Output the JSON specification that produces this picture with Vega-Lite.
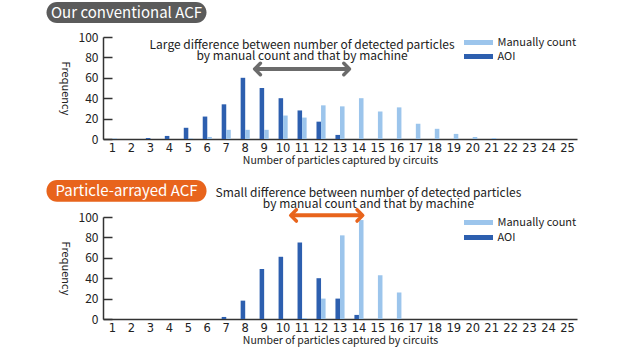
{
  "$schema": "https://vega.github.io/schema/vega-lite/v6.json",
  "background": "white",
  "padding": {"left": 46, "top": 2, "right": 10, "bottom": 2},
  "spacing": 14,
  "config": {
    "view": {"stroke": null},
    "font": "Noto Sans CJK JP",
    "axis": {"labelColor": "#222", "titleColor": "#222", "domainColor": "#333", "tickColor": "#333", "grid": false, "labelFont": "Noto Sans CJK JP", "titleFont": "Noto Sans CJK JP", "titleFontWeight": "normal"},
    "axisY": {"labelOverlap": false, "labelFontSize": 12, "tickSize": -9, "labelPadding": 14, "domainWidth": 1.5, "tickWidth": 1.5, "titleAngle": 90, "titleBaseline": "top", "titleFontSize": 11, "titlePadding": 8},
    "legend": {"labelFont": "Noto Sans CJK JP", "labelColor": "#222"}
  },
  "resolve": {"scale": {"color": "independent"}, "legend": {"color": "independent"}},
  "datasets": {
    "top": [
      {"n": 1, "series": "AOI", "freq": 0}, {"n": 2, "series": "AOI", "freq": 0}, {"n": 3, "series": "AOI", "freq": 1}, {"n": 4, "series": "AOI", "freq": 3}, {"n": 5, "series": "AOI", "freq": 11},
      {"n": 6, "series": "AOI", "freq": 22}, {"n": 7, "series": "AOI", "freq": 34}, {"n": 8, "series": "AOI", "freq": 60}, {"n": 9, "series": "AOI", "freq": 50}, {"n": 10, "series": "AOI", "freq": 40},
      {"n": 11, "series": "AOI", "freq": 28}, {"n": 12, "series": "AOI", "freq": 17}, {"n": 13, "series": "AOI", "freq": 4}, {"n": 14, "series": "AOI", "freq": 0}, {"n": 15, "series": "AOI", "freq": 0},
      {"n": 16, "series": "AOI", "freq": 0}, {"n": 17, "series": "AOI", "freq": 0}, {"n": 18, "series": "AOI", "freq": 0}, {"n": 19, "series": "AOI", "freq": 0}, {"n": 20, "series": "AOI", "freq": 0},
      {"n": 21, "series": "AOI", "freq": 0}, {"n": 22, "series": "AOI", "freq": 0}, {"n": 23, "series": "AOI", "freq": 0}, {"n": 24, "series": "AOI", "freq": 0}, {"n": 25, "series": "AOI", "freq": 0},
      {"n": 1, "series": "Manually count", "freq": 0.5}, {"n": 2, "series": "Manually count", "freq": 0}, {"n": 3, "series": "Manually count", "freq": 0}, {"n": 4, "series": "Manually count", "freq": 0}, {"n": 5, "series": "Manually count", "freq": 0.5},
      {"n": 6, "series": "Manually count", "freq": 2}, {"n": 7, "series": "Manually count", "freq": 9}, {"n": 8, "series": "Manually count", "freq": 9}, {"n": 9, "series": "Manually count", "freq": 9}, {"n": 10, "series": "Manually count", "freq": 23},
      {"n": 11, "series": "Manually count", "freq": 21}, {"n": 12, "series": "Manually count", "freq": 33}, {"n": 13, "series": "Manually count", "freq": 32}, {"n": 14, "series": "Manually count", "freq": 40}, {"n": 15, "series": "Manually count", "freq": 27},
      {"n": 16, "series": "Manually count", "freq": 31}, {"n": 17, "series": "Manually count", "freq": 15}, {"n": 18, "series": "Manually count", "freq": 10}, {"n": 19, "series": "Manually count", "freq": 5}, {"n": 20, "series": "Manually count", "freq": 2},
      {"n": 21, "series": "Manually count", "freq": 1}, {"n": 22, "series": "Manually count", "freq": 0}, {"n": 23, "series": "Manually count", "freq": 0}, {"n": 24, "series": "Manually count", "freq": 0}, {"n": 25, "series": "Manually count", "freq": 0}
    ],
    "bottom": [
      {"n": 1, "series": "AOI", "freq": 0}, {"n": 2, "series": "AOI", "freq": 0}, {"n": 3, "series": "AOI", "freq": 0}, {"n": 4, "series": "AOI", "freq": 0}, {"n": 5, "series": "AOI", "freq": 0},
      {"n": 6, "series": "AOI", "freq": 0}, {"n": 7, "series": "AOI", "freq": 2}, {"n": 8, "series": "AOI", "freq": 18}, {"n": 9, "series": "AOI", "freq": 49}, {"n": 10, "series": "AOI", "freq": 61},
      {"n": 11, "series": "AOI", "freq": 75}, {"n": 12, "series": "AOI", "freq": 40}, {"n": 13, "series": "AOI", "freq": 20}, {"n": 14, "series": "AOI", "freq": 4}, {"n": 15, "series": "AOI", "freq": 0},
      {"n": 16, "series": "AOI", "freq": 0}, {"n": 17, "series": "AOI", "freq": 0}, {"n": 18, "series": "AOI", "freq": 0}, {"n": 19, "series": "AOI", "freq": 0}, {"n": 20, "series": "AOI", "freq": 0},
      {"n": 21, "series": "AOI", "freq": 0}, {"n": 22, "series": "AOI", "freq": 0}, {"n": 23, "series": "AOI", "freq": 0}, {"n": 24, "series": "AOI", "freq": 0}, {"n": 25, "series": "AOI", "freq": 0},
      {"n": 1, "series": "Manually count", "freq": 0}, {"n": 2, "series": "Manually count", "freq": 0}, {"n": 3, "series": "Manually count", "freq": 0}, {"n": 4, "series": "Manually count", "freq": 0}, {"n": 5, "series": "Manually count", "freq": 0},
      {"n": 6, "series": "Manually count", "freq": 0}, {"n": 7, "series": "Manually count", "freq": 0}, {"n": 8, "series": "Manually count", "freq": 0}, {"n": 9, "series": "Manually count", "freq": 0}, {"n": 10, "series": "Manually count", "freq": 0},
      {"n": 11, "series": "Manually count", "freq": 1}, {"n": 12, "series": "Manually count", "freq": 20}, {"n": 13, "series": "Manually count", "freq": 82}, {"n": 14, "series": "Manually count", "freq": 97}, {"n": 15, "series": "Manually count", "freq": 43},
      {"n": 16, "series": "Manually count", "freq": 26}, {"n": 17, "series": "Manually count", "freq": 0}, {"n": 18, "series": "Manually count", "freq": 0}, {"n": 19, "series": "Manually count", "freq": 0}, {"n": 20, "series": "Manually count", "freq": 0},
      {"n": 21, "series": "Manually count", "freq": 0}, {"n": 22, "series": "Manually count", "freq": 0}, {"n": 23, "series": "Manually count", "freq": 0}, {"n": 24, "series": "Manually count", "freq": 0}, {"n": 25, "series": "Manually count", "freq": 0}
    ],
    "topNotes": [
      {"label": "Our conventional ACF", "x": -2.48, "x2": 5.96, "y": 134.3, "y2": 113.7, "xc": 1.74, "yc": 124}
    ],
    "topText": [
      {"label": "Large difference between number of detected particles\nby manual count and that by machine", "x": 11, "y": 92.2}
    ],
    "topArrow": [
      {"x": 8.5, "x2": 13.5, "y": 68.6}
    ],
    "bottomNotes": [
      {"label": "Particle-arrayed ACF", "x": -2.48, "x2": 5.96, "y": 136.2, "y2": 115.0, "xc": 1.74, "yc": 125.6}
    ],
    "bottomText": [
      {"label": "Small difference between number of detected particles\nby manual count and that by machine", "x": 14.5, "y": 123.9}
    ],
    "bottomArrow": [
      {"x": 10.4, "x2": 14.2, "y": 101.6}
    ]
  },
  "vconcat": [
    {
      "width": 474,
      "height": 102,
      "resolve": {"scale": {"x": "independent", "y": "independent"}},
      "layer": [
        {
          "data": {"name": "top"},
          "mark": {"type": "bar"},
          "encoding": {
            "x": {"field": "n", "type": "ordinal", "scale": {"paddingInner": 0.52, "paddingOuter": 0.26},
                  "axis": {"title": "Number of particles captured by circuits", "titleFontSize": 10.5, "titlePadding": 2, "labelAngle": 0, "labelFont": "DejaVu Sans", "labelFontSize": 11.5, "ticks": false, "labelPadding": 3, "domainWidth": 1.5, "labelOverlap": false}},
            "xOffset": {"field": "series", "type": "nominal", "scale": {"domain": ["AOI", "Manually count"]}},
            "y": {"field": "freq", "type": "quantitative", "scale": {"domain": [0, 100], "nice": false},
                  "axis": {"title": "Frequency", "values": [0, 20, 40, 60, 80, 100], "labelOverlap": false}},
            "color": {"field": "series", "type": "nominal", "scale": {"domain": ["Manually count", "AOI"], "range": ["#9cc5ec", "#2d5faf"]},
                      "legend": {"title": null, "orient": "top-right", "offset": 0, "padding": 0, "labelFontSize": 11, "labelOffset": 13.5, "rowPadding": 2, "symbolType": "M-2.9,-0.5L2.9,-0.5L2.9,0.5L-2.9,0.5Z", "symbolSize": 100, "symbolStrokeWidth": 0}}
          }
        },
        {
          "data": {"name": "topNotes"},
          "mark": {"type": "rect", "cornerRadius": 10.5, "color": "#5b5b5b"},
          "encoding": {
            "x": {"field": "x", "type": "quantitative", "scale": {"domain": [0.5, 25.5], "nice": false, "zero": false}, "axis": null},
            "x2": {"field": "x2"},
            "y": {"field": "y", "type": "quantitative", "scale": {"domain": [0, 100], "nice": false, "zero": false}, "axis": null},
            "y2": {"field": "y2"}
          }
        },
        {
          "data": {"name": "topNotes"},
          "mark": {"type": "text", "color": "white", "fontSize": 15, "align": "center", "baseline": "middle"},
          "encoding": {
            "x": {"field": "xc", "type": "quantitative", "scale": {"domain": [0.5, 25.5], "nice": false, "zero": false}, "axis": null},
            "y": {"field": "yc", "type": "quantitative", "scale": {"domain": [0, 100], "nice": false, "zero": false}, "axis": null},
            "text": {"field": "label"}
          }
        },
        {
          "data": {"name": "topText"},
          "mark": {"type": "text", "color": "#222", "fontSize": 12, "align": "center", "baseline": "middle", "lineBreak": "\n", "lineHeight": 11.5},
          "encoding": {
            "x": {"field": "x", "type": "quantitative", "scale": {"domain": [0.5, 25.5], "nice": false, "zero": false}, "axis": null},
            "y": {"field": "y", "type": "quantitative", "scale": {"domain": [0, 100], "nice": false, "zero": false}, "axis": null},
            "text": {"field": "label"}
          }
        },
        {
          "data": {"name": "topArrow"},
          "mark": {"type": "rule", "color": "#6b6b6b", "strokeWidth": 4},
          "encoding": {
            "x": {"field": "x", "type": "quantitative", "scale": {"domain": [0.5, 25.5], "nice": false, "zero": false}, "axis": null},
            "x2": {"field": "x2"},
            "y": {"field": "y", "type": "quantitative", "scale": {"domain": [0, 100], "nice": false, "zero": false}, "axis": null}
          }
        },
        {
          "data": {"name": "topArrow"},
          "mark": {"type": "point", "shape": "M1,-1L0,0L1,1", "size": 130, "color": "#6b6b6b", "strokeWidth": 3.5, "filled": false, "opacity": 1, "strokeCap": "round", "strokeJoin": "round"},
          "encoding": {
            "x": {"field": "x", "type": "quantitative", "scale": {"domain": [0.5, 25.5], "nice": false, "zero": false}, "axis": null},
            "y": {"field": "y", "type": "quantitative", "scale": {"domain": [0, 100], "nice": false, "zero": false}, "axis": null}
          }
        },
        {
          "data": {"name": "topArrow"},
          "mark": {"type": "point", "shape": "M-1,-1L0,0L-1,1", "size": 130, "color": "#6b6b6b", "strokeWidth": 3.5, "filled": false, "opacity": 1, "strokeCap": "round", "strokeJoin": "round"},
          "encoding": {
            "x": {"field": "x2", "type": "quantitative", "scale": {"domain": [0.5, 25.5], "nice": false, "zero": false}, "axis": null},
            "y": {"field": "y", "type": "quantitative", "scale": {"domain": [0, 100], "nice": false, "zero": false}, "axis": null}
          }
        }
      ]
    },
    {
      "width": 474,
      "height": 102,
      "resolve": {"scale": {"x": "independent", "y": "independent"}},
      "layer": [
        {
          "data": {"name": "bottom"},
          "mark": {"type": "bar"},
          "encoding": {
            "x": {"field": "n", "type": "ordinal", "scale": {"paddingInner": 0.52, "paddingOuter": 0.26},
                  "axis": {"title": "Number of particles captured by circuits", "titleFontSize": 10.5, "titlePadding": 2, "labelAngle": 0, "labelFont": "DejaVu Sans", "labelFontSize": 11.5, "ticks": false, "labelPadding": 3, "domainWidth": 1.5, "labelOverlap": false}},
            "xOffset": {"field": "series", "type": "nominal", "scale": {"domain": ["AOI", "Manually count"]}},
            "y": {"field": "freq", "type": "quantitative", "scale": {"domain": [0, 100], "nice": false},
                  "axis": {"title": "Frequency", "values": [0, 20, 40, 60, 80, 100], "labelOverlap": false}},
            "color": {"field": "series", "type": "nominal", "scale": {"domain": ["Manually count", "AOI"], "range": ["#9cc5ec", "#2d5faf"]},
                      "legend": {"title": null, "orient": "top-right", "offset": 0, "padding": 0, "labelFontSize": 11, "labelOffset": 13.5, "rowPadding": 3, "symbolType": "M-2.9,-0.5L2.9,-0.5L2.9,0.5L-2.9,0.5Z", "symbolSize": 100, "symbolStrokeWidth": 0}}
          }
        },
        {
          "data": {"name": "bottomNotes"},
          "mark": {"type": "rect", "cornerRadius": 10.5, "color": "#e8641c"},
          "encoding": {
            "x": {"field": "x", "type": "quantitative", "scale": {"domain": [0.5, 25.5], "nice": false, "zero": false}, "axis": null},
            "x2": {"field": "x2"},
            "y": {"field": "y", "type": "quantitative", "scale": {"domain": [0, 100], "nice": false, "zero": false}, "axis": null},
            "y2": {"field": "y2"}
          }
        },
        {
          "data": {"name": "bottomNotes"},
          "mark": {"type": "text", "color": "white", "fontSize": 15, "align": "center", "baseline": "middle"},
          "encoding": {
            "x": {"field": "xc", "type": "quantitative", "scale": {"domain": [0.5, 25.5], "nice": false, "zero": false}, "axis": null},
            "y": {"field": "yc", "type": "quantitative", "scale": {"domain": [0, 100], "nice": false, "zero": false}, "axis": null},
            "text": {"field": "label"}
          }
        },
        {
          "data": {"name": "bottomText"},
          "mark": {"type": "text", "color": "#222", "fontSize": 12, "align": "center", "baseline": "middle", "lineBreak": "\n", "lineHeight": 11.5},
          "encoding": {
            "x": {"field": "x", "type": "quantitative", "scale": {"domain": [0.5, 25.5], "nice": false, "zero": false}, "axis": null},
            "y": {"field": "y", "type": "quantitative", "scale": {"domain": [0, 100], "nice": false, "zero": false}, "axis": null},
            "text": {"field": "label"}
          }
        },
        {
          "data": {"name": "bottomArrow"},
          "mark": {"type": "rule", "color": "#e8641c", "strokeWidth": 4},
          "encoding": {
            "x": {"field": "x", "type": "quantitative", "scale": {"domain": [0.5, 25.5], "nice": false, "zero": false}, "axis": null},
            "x2": {"field": "x2"},
            "y": {"field": "y", "type": "quantitative", "scale": {"domain": [0, 100], "nice": false, "zero": false}, "axis": null}
          }
        },
        {
          "data": {"name": "bottomArrow"},
          "mark": {"type": "point", "shape": "M1,-1L0,0L1,1", "size": 130, "color": "#e8641c", "strokeWidth": 3.5, "filled": false, "opacity": 1, "strokeCap": "round", "strokeJoin": "round"},
          "encoding": {
            "x": {"field": "x", "type": "quantitative", "scale": {"domain": [0.5, 25.5], "nice": false, "zero": false}, "axis": null},
            "y": {"field": "y", "type": "quantitative", "scale": {"domain": [0, 100], "nice": false, "zero": false}, "axis": null}
          }
        },
        {
          "data": {"name": "bottomArrow"},
          "mark": {"type": "point", "shape": "M-1,-1L0,0L-1,1", "size": 130, "color": "#e8641c", "strokeWidth": 3.5, "filled": false, "opacity": 1, "strokeCap": "round", "strokeJoin": "round"},
          "encoding": {
            "x": {"field": "x2", "type": "quantitative", "scale": {"domain": [0.5, 25.5], "nice": false, "zero": false}, "axis": null},
            "y": {"field": "y", "type": "quantitative", "scale": {"domain": [0, 100], "nice": false, "zero": false}, "axis": null}
          }
        }
      ]
    }
  ]
}
